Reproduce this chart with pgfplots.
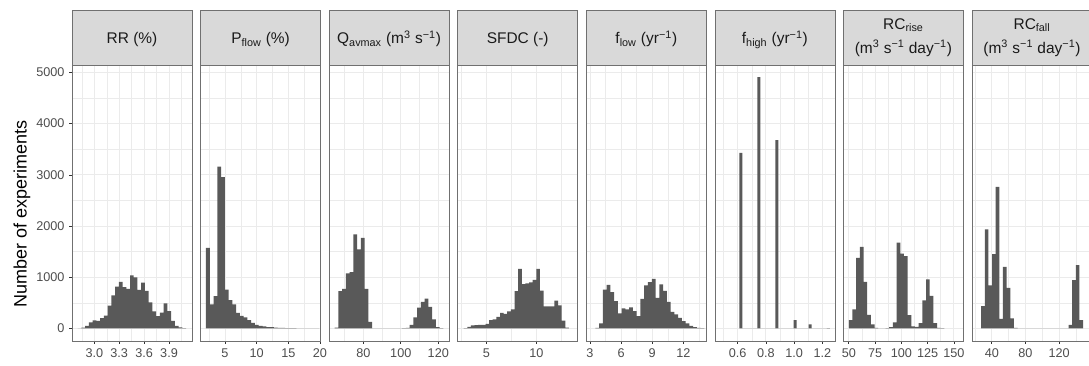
\documentclass[border=0pt]{standalone}
\usepackage{fontspec}
\setmainfont{Liberation Sans}
\usepackage{pgfplots}
\pgfplotsset{compat=1.18}
\definecolor{g10}{HTML}{1A1A1A}
\definecolor{g20}{HTML}{333333}
\definecolor{gb}{HTML}{707070}
\definecolor{g30}{HTML}{4D4D4D}
\definecolor{g35}{HTML}{595959}
\definecolor{g85}{HTML}{D9D9D9}
\definecolor{g92}{HTML}{EBEBEB}
\pgfplotsset{
  panel/.style={
    scale only axis, width=90pt, height=207pt, anchor=south west,
    ymin=-245, ymax=5145,
    ytick={0,1000,2000,3000,4000,5000},
    minor ytick={500,1500,2500,3500,4500},
    grid=both,
    major grid style={draw=g92, line width=0.65pt},
    minor grid style={draw=g92, line width=0.35pt},
    axis line style={draw=gb, line width=0.6pt},
    tick align=outside, major tick length=2.1pt, minor tick length=0pt,
    tick style={draw=g20, line width=0.5pt},
    xtick pos=bottom, ytick pos=left,
    tick label style={font=\fontsize{9.5pt}{11pt}\selectfont, text=g30},
  },
  inner/.style={yticklabels={}, ytick style={draw=none}},
  hist/.style={ybar interval, fill=g35, draw=none, mark=none},
}
\newcommand{\striptext}{\fontsize{11.6pt}{14pt}\selectfont}
\begin{document}
\begin{tikzpicture}
\useasboundingbox (0,0) rectangle (816.75pt,273.75pt);

% Panel 1: RR
\begin{axis}[panel, name=a1, at={(54pt,18pt)}, xmin=2.731, xmax=4.177,
  xtick={3.0,3.3,3.6,3.9}, xticklabels={3.0,3.3,3.6,3.9},
  minor xtick={2.85,3.15,3.45,3.75,4.05},
  yticklabels={0,1000,2000,3000,4000,5000}]
\addplot[hist] coordinates {(2.800,3)(2.845,15)(2.890,50)(2.935,120)(2.980,160)(3.025,150)(3.070,200)(3.115,250)(3.160,445)(3.205,648)(3.250,815)(3.295,908)(3.340,808)(3.385,775)(3.430,1035)(3.475,998)(3.520,755)(3.565,895)(3.610,735)(3.655,510)(3.700,335)(3.745,240)(3.790,310)(3.835,492)(3.880,340)(3.925,150)(3.970,50)(4.015,20)(4.060,5)(4.105,0)};
\end{axis}

% Panel 2: Pflow
\begin{axis}[panel, inner, name=a2, at={(150.45pt,18pt)}, xmin=1.15, xmax=20.1,
  xtick={5,10,15,20}, xticklabels={5,10,15,20},
  minor xtick={2.5,7.5,12.5,17.5}]
\addplot[hist] coordinates {(2.000,1575)(2.595,470)(3.190,630)(3.785,3160)(4.380,2955)(4.975,760)(5.570,553)(6.165,470)(6.760,305)(7.355,245)(7.950,215)(8.545,165)(9.140,110)(9.735,68)(10.330,52)(10.925,40)(11.520,28)(12.115,24)(12.710,18)(13.305,13)(13.900,10)(14.495,8)(15.090,6)(15.685,5)(16.280,4)(16.875,3)(17.470,2)(18.065,2)(18.660,1)(19.255,1)(19.850,0)};
\end{axis}

% Panel 3: Qavmax
\begin{axis}[panel, inner, name=a3, at={(246.83pt,18pt)}, xmin=61.76, xmax=125.76,
  xtick={80,100,120}, xticklabels={80,100,120},
  minor xtick={70,90,110}]
\addplot[hist] coordinates {(64.7,15)(66.7,730)(68.7,775)(70.7,1075)(72.7,1100)(74.7,1835)(76.7,1543)(78.7,1770)(80.7,775)(82.7,130)(84.7,0)(98.7,2)(100.7,5)(102.7,12)(104.7,70)(106.7,215)(108.7,405)(110.7,520)(112.7,583)(114.7,420)(116.7,175)(118.7,28)(120.7,5)(122.7,0)};
\end{axis}

% Panel 4: SFDC
\begin{axis}[panel, inner, name=a4, at={(343.28pt,18pt)}, xmin=2.14, xmax=14.14,
  xtick={5,10}, xticklabels={5,10},
  minor xtick={2.5,7.5,12.5}]
\addplot[hist] coordinates {(2.74,5)(3.10,33)(3.46,60)(3.83,65)(4.19,72)(4.55,72)(4.92,90)(5.28,163)(5.64,176)(6.00,228)(6.37,306)(6.73,286)(7.09,332)(7.46,371)(7.82,729)(8.18,1165)(8.55,866)(8.91,880)(9.27,900)(9.64,950)(10.00,1165)(10.36,740)(10.72,430)(11.09,430)(11.45,430)(11.81,545)(12.18,450)(12.54,155)(12.90,15)(13.26,0)};
\end{axis}

% Panel 5: flow
\begin{axis}[panel, inner, name=a5, at={(439.73pt,18pt)}, xmin=2.643, xmax=14.22,
  xtick={3,6,9,12}, xticklabels={3,6,9,12},
  minor xtick={4.5,7.5,10.5,13.5}]
\addplot[hist] coordinates {(3.51,10)(3.87,98)(4.23,760)(4.60,853)(4.96,710)(5.32,534)(5.69,293)(6.05,391)(6.41,371)(6.78,410)(7.14,338)(7.50,241)(7.87,580)(8.23,840)(8.59,905)(8.96,970)(9.32,599)(9.68,860)(10.05,736)(10.41,521)(10.77,325)(11.14,273)(11.50,208)(11.86,143)(12.23,98)(12.59,52)(12.95,26)(13.32,13)(13.68,5)(14.04,0)};
\end{axis}

% Panel 6: fhigh
\begin{axis}[panel, inner, name=a6, at={(536.18pt,18pt)}, xmin=0.4383, xmax=1.2893,
  xtick={0.6,0.8,1.0,1.2}, xticklabels={0.6,0.8,1.0,1.2},
  minor xtick={0.5,0.7,0.9,1.1}]
\addplot[hist] coordinates {(0.6115,3431)(0.6330,0)(0.7400,4909)(0.7615,0)(0.8670,3678)(0.8885,0)(0.9960,163)(1.0175,0)(1.1030,78)(1.1245,0)(1.2320,8)(1.2535,0)};
\end{axis}

% Panel 7: RCrise
\begin{axis}[panel, inner, name=a7, at={(632.55pt,18pt)}, xmin=44.86, xmax=159.1,
  xtick={50,75,100,125,150}, xticklabels={50,75,100,125,150},
  minor xtick={62.5,87.5,112.5,137.5}]
\addplot[hist] coordinates {(50,163)(53.5,371)(57,1380)(60.5,1595)(64,910)(67.5,265)(71,80)(74.5,13)(78,3)(81.5,3)(85,5)(88.5,26)(92,120)(95.5,1675)(99,1460)(102.5,1415)(106,260)(109.5,40)(113,30)(116.5,105)(120,550)(123.5,960)(127,635)(130.5,105)(134,13)(137.5,5)(141,0)};
\end{axis}

% Panel 8: RCfall
\begin{axis}[panel, inner, name=a8, at={(729pt,18pt)}, xmin=16.46, xmax=159.1,
  xtick={40,80,120}, xticklabels={40,80,120},
  minor xtick={20,60,100,140}]
\addplot[hist] coordinates {(27.30,436)(31.63,1934)(35.96,840)(40.29,1450)(44.62,2767)(48.95,189)(53.28,1204)(57.61,794)(61.94,195)(66.27,13)(70.60,0)(131.22,72)(135.55,944)(139.88,1237)(144.21,163)(148.54,0)};
\end{axis}

% Strips
\foreach \a in {a1,a2,a3,a4,a5,a6,a7,a8}{
  \draw[fill=g85, draw=gb, line width=0.6pt] (\a.north west) rectangle ([yshift=41.25pt]\a.north east);
}
\node[anchor=base, font=\striptext, text=g10] at ([yshift=15.75pt]a1.north) {RR (\%)};
\node[anchor=base, font=\striptext, text=g10] at ([yshift=15.75pt]a2.north) {P\textsubscript{flow} (\%)};
\node[anchor=base, font=\striptext, text=g10] at ([yshift=15.75pt]a3.north) {Q\textsubscript{avmax} (m\textsuperscript{3} s\textsuperscript{−1})};
\node[anchor=base, font=\striptext, text=g10] at ([yshift=15.75pt]a4.north) {SFDC (-)};
\node[anchor=base, font=\striptext, text=g10] at ([yshift=15.75pt]a5.north) {f\textsubscript{low} (yr\textsuperscript{−1})};
\node[anchor=base, font=\striptext, text=g10] at ([yshift=15.75pt]a6.north) {f\textsubscript{high} (yr\textsuperscript{−1})};
\node[anchor=base, font=\striptext, text=g10] at ([yshift=26.8pt]a7.north) {RC\textsubscript{rise}};
\node[anchor=base, font=\striptext, text=g10] at ([yshift=8.8pt]a7.north) {(m\textsuperscript{3} s\textsuperscript{−1} day\textsuperscript{−1})};
\node[anchor=base, font=\striptext, text=g10] at ([yshift=26.8pt]a8.north) {RC\textsubscript{fall}};
\node[anchor=base, font=\striptext, text=g10] at ([yshift=8.8pt]a8.north) {(m\textsuperscript{3} s\textsuperscript{−1} day\textsuperscript{−1})};

% y label
\node[rotate=90, font=\fontsize{13.5pt}{16pt}\selectfont, text=black] at (16.5pt,113.25pt) {Number of experiments};
\end{tikzpicture}
\end{document}
